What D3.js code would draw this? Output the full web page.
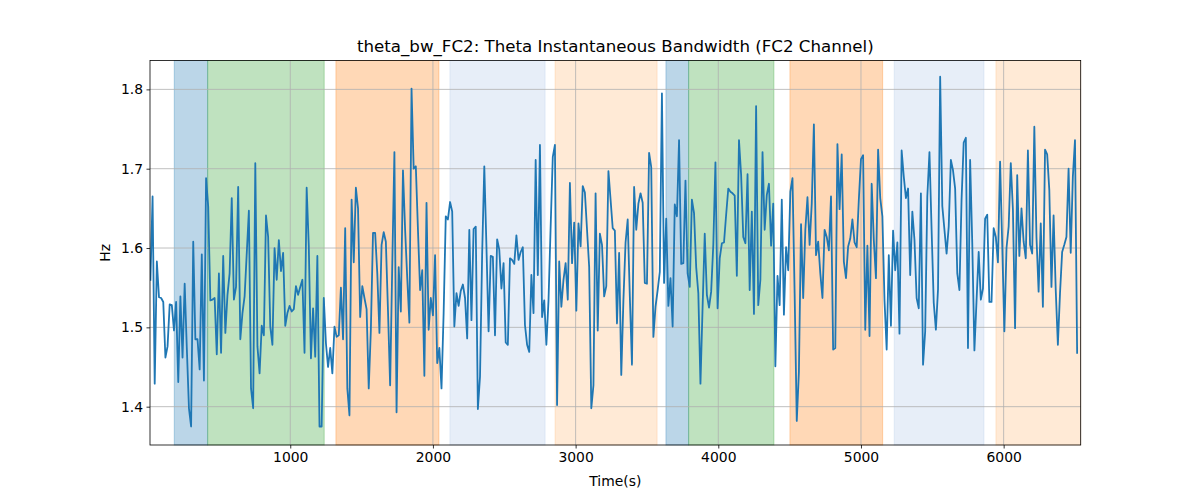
<!DOCTYPE html>
<html>
<head>
<meta charset="utf-8">
<script src="https://cdn.jsdelivr.net/npm/d3@7"></script>
<style>
  html, body { margin: 0; padding: 0; background: #fff; }
  svg { display: block; font-family: "DejaVu Sans", sans-serif; }
</style>
</head>
<body>
<svg id="chart" width="1200" height="500"></svg>
<script>
// ---- data ----
const title = "theta_bw_FC2: Theta Instantaneous Bandwidth (FC2 Channel)";
const xLabel = "Time(s)";
const yLabel = "Hz";
const sampleStart = 20;   // seconds
const sampleStep = 15;    // seconds between samples
const bandwidth = [
  1.560,1.665,1.429,1.583,1.538,1.537,1.532,1.462,1.476,1.529,1.528,1.496,1.532,1.431,1.539,1.462,1.555,1.474,1.398,1.375,
  1.608,1.485,1.485,1.447,1.592,1.433,1.688,1.652,1.534,1.535,1.537,1.466,1.568,1.468,1.590,1.493,1.541,1.568,1.663,
  1.535,1.551,1.677,1.485,1.518,1.539,1.593,1.647,1.423,1.398,1.707,1.476,1.442,1.502,1.490,1.641,1.614,1.501,1.478,1.600,
  1.560,1.610,1.571,1.594,1.502,1.518,1.527,1.520,1.523,1.552,1.541,1.551,1.560,1.468,1.676,1.602,1.461,1.524,1.463,1.590,
  1.375,1.375,
  1.537,1.480,1.450,1.474,1.442,1.501,1.488,1.490,1.550,1.485,1.625,1.423,1.389,1.661,1.582,1.676,1.650,1.513,1.552,1.537,
  1.523,1.423,1.497,1.619,1.619,1.568,1.493,1.604,1.620,1.608,1.521,1.427,1.579,1.721,1.393,1.576,1.520,1.698,1.623,1.562,
  1.506,1.801,
  1.700,1.703,1.623,1.547,1.572,1.439,1.657,1.497,1.537,1.515,1.591,1.455,1.474,1.423,1.518,1.640,1.636,1.658,1.646,1.501,
  1.543,1.527,1.546,1.554,1.537,1.486,1.623,1.509,1.624,1.627,1.397,1.438,1.593,1.703,1.602,1.495,1.590,1.589,1.490,1.611,
  1.598,1.549,
  1.581,1.481,1.478,1.587,1.585,1.580,1.616,1.585,1.595,1.601,1.503,1.478,1.469,1.566,1.518,1.711,1.566,1.730,1.513,1.534,
  1.478,1.534,1.627,1.715,1.730,1.402,1.583,1.526,1.560,1.581,1.535,1.682,1.581,1.632,1.521,1.631,1.602,1.678,1.670,1.623,
  1.576,1.398,
  1.427,1.669,1.496,1.618,1.604,1.539,1.552,1.697,1.661,1.625,1.622,1.505,1.594,1.440,1.534,1.607,1.636,1.539,1.453,1.677,
  1.623,1.656,1.669,1.657,1.556,1.555,1.720,1.702,1.488,1.526,1.547,1.570,1.795,1.556,1.637,1.527,1.562,1.501,1.655,1.640,
  1.736,1.580,
  1.581,1.685,1.568,1.551,1.661,1.644,1.576,1.543,1.429,1.526,1.618,1.541,1.525,1.545,1.604,1.708,1.524,1.587,1.606,1.607,
  1.642,1.675,1.671,1.669,1.666,1.565,1.736,1.692,1.614,1.606,1.693,1.547,1.646,1.517,1.779,1.528,1.560,1.721,1.623,1.667,
  1.681,1.603,
  1.656,1.451,1.565,1.528,1.661,1.516,1.601,1.572,1.671,1.688,1.543,1.382,1.444,1.630,1.537,1.623,1.664,1.604,1.656,1.756,
  1.591,1.608,1.568,1.537,1.623,1.614,1.597,1.665,1.472,1.474,1.731,1.649,1.718,1.583,1.562,1.602,1.612,1.636,1.607,1.601,
  1.661,1.712,
  1.717,1.497,1.603,1.489,1.681,1.610,1.562,1.724,1.663,1.640,1.534,1.472,1.591,1.502,1.622,1.572,1.607,1.492,1.723,1.690,
  1.663,1.675,1.566,1.646,1.610,1.537,1.524,1.669,1.453,1.495,1.665,1.721,1.623,1.531,1.497,1.548,1.816,1.653,1.623,1.593,
  1.627,1.711,
  1.698,1.675,1.568,1.547,1.661,1.733,1.739,1.474,1.711,1.606,1.471,1.534,1.595,1.535,1.549,1.637,1.642,1.532,1.532,1.625,
  1.614,1.582,1.709,1.604,1.495,1.600,1.627,1.707,1.648,1.499,1.692,1.590,1.650,1.608,1.587,1.723,1.604,1.593,1.753,1.614,
  1.545,1.631,1.526,1.724,
  1.718,1.673,1.551,1.641,1.547,1.478,1.543,1.595,1.604,1.614,1.700,1.594,1.690,1.736,1.468
];
// shaded phases: start, end (seconds), colour key
const spanStarts = [187, 421, 1320, 2119, 2856, 3633, 3792, 4502, 5233, 5946];
const spanEnds   = [421, 1238, 2042, 2786, 3571, 3792, 4390, 5152, 5862, 6540];
const spanKinds  = ["blue", "green", "orange", "lightblue", "lightorange", "blue", "green", "orange", "lightblue", "lightorange"];
const xTicks = [1000, 2000, 3000, 4000, 5000, 6000];
const yTicks = [1.4, 1.5, 1.6, 1.7, 1.8];

// ---- styles ----
const spanColors = {
  blue: "#1f77b4", green: "#2ca02c", orange: "#ff7f0e",
  lightblue: "#aec7e8", lightorange: "#ffbb78"
};

const times = bandwidth.map((_, i) => sampleStart + i * sampleStep);
const points = bandwidth.map((v, i) => ({ t: times[i], v }));

const svg = d3.select("#chart");
const margin = { left: 150, right: 120, top: 60.5, bottom: 55 };
const W = 1200, H = 500;
const x = d3.scaleLinear().domain([17, 6540]).range([margin.left, W - margin.right + 0.7]);
const y = d3.scaleLinear().domain([1.3517, 1.8364]).range([H - margin.bottom, margin.top]);

const [x0, x1] = x.range();
const [yb, yt] = y.range();

// spans
const spans = spanStarts.map((s, i) => ({ s, e: spanEnds[i], k: spanKinds[i] }));
svg.append("g").selectAll("rect").data(spans).join("rect")
  .attr("x", d => x(d.s))
  .attr("width", d => Math.min(x(d.e), x1) - x(d.s))
  .attr("y", yt).attr("height", yb - yt)
  .attr("fill", d => spanColors[d.k]).attr("fill-opacity", 0.3)
  .attr("stroke", d => spanColors[d.k]).attr("stroke-opacity", 0.3).attr("stroke-width", 1);

// grid
const grid = svg.append("g").attr("stroke", "#b0b0b0").attr("stroke-width", 0.8);
grid.selectAll("line.v").data(xTicks).join("line").attr("class", "v")
  .attr("x1", d => x(d)).attr("x2", d => x(d)).attr("y1", yt).attr("y2", yb);
grid.selectAll("line.h").data(yTicks).join("line").attr("class", "h")
  .attr("y1", d => y(d)).attr("y2", d => y(d)).attr("x1", x0).attr("x2", x1);

// line
const clipId = "plotclip";
svg.append("clipPath").attr("id", clipId).append("rect")
  .attr("x", x0).attr("y", yt).attr("width", x1 - x0).attr("height", yb - yt);
svg.append("path").datum(points)
  .attr("clip-path", `url(#${clipId})`)
  .attr("fill", "none").attr("stroke", "#1f77b4").attr("stroke-width", 1.8)
  .attr("stroke-linejoin", "round").attr("stroke-linecap", "square")
  .attr("d", d3.line().x(d => x(d.t)).y(d => y(d.v)));

// axes
const xAxis = svg.append("g").attr("transform", `translate(0,${yb})`)
  .call(d3.axisBottom(x).tickValues(xTicks).tickSize(3.5).tickPadding(3.5).tickFormat(d3.format("d")));
const yAxis = svg.append("g").attr("transform", `translate(${x0},0)`)
  .call(d3.axisLeft(y).tickValues(yTicks).tickSize(3.5).tickPadding(3.5).tickFormat(d3.format(".1f")));
[xAxis, yAxis].forEach(g => {
  g.select(".domain").remove();
  g.selectAll("text").attr("font-size", 13.9).attr("fill", "#000").attr("font-family", "DejaVu Sans");
  g.selectAll("line").attr("stroke", "#000").attr("stroke-width", 0.8);
});

// frame
svg.append("rect").attr("x", x0).attr("y", yt).attr("width", x1 - x0).attr("height", yb - yt)
  .attr("fill", "none").attr("stroke", "#000").attr("stroke-width", 0.8);

// labels
svg.append("text").attr("x", (x0 + x1) / 2).attr("y", 52).attr("text-anchor", "middle")
  .attr("font-size", 16.67).attr("fill", "#000").text(title);
svg.append("text").attr("x", (x0 + x1) / 2).attr("y", 486).attr("text-anchor", "middle")
  .attr("font-size", 13.9).attr("fill", "#000").text(xLabel);
svg.append("text").attr("transform", `translate(110,${(yt + yb) / 2}) rotate(-90)`)
  .attr("text-anchor", "middle").attr("font-size", 13.9).attr("fill", "#000").text(yLabel);
</script>
</body>
</html>
